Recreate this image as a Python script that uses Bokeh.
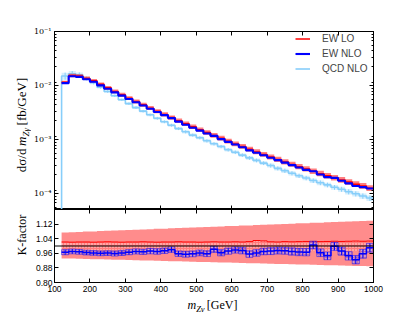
import math
from bokeh.plotting import figure
from bokeh.layouts import column, row
from bokeh.models import (LinearAxis, LogAxis, FixedTicker, LogTicker, CustomJSTickFormatter,
                          PrintfTickFormatter, Legend, LegendItem, Span, Range1d, Div)
from bokeh.embed import file_html
from bokeh.resources import INLINE

# ---------------- data ----------------
mass_edges = list(range(120, 1001, 20))

ew_lo = [0.0114, 0.0153, 0.0149, 0.0135, 0.01218, 0.01046, 0.00901, 0.00775, 0.00671, 0.00580,
         0.00503, 0.00437, 0.00379, 0.00332, 0.00289, 0.00253, 0.00222, 0.00195, 0.00171, 0.00151,
         0.00134, 0.00118, 0.00105, 0.000925, 0.000823, 0.000734, 0.000654, 0.000585, 0.000524, 0.000470,
         0.000423, 0.000380, 0.000343, 0.000310, 0.000281, 0.000255, 0.000231, 0.000211, 0.000193, 0.000176,
         0.000161, 0.000147, 0.000136, 0.000124]

k_ew = [0.966, 0.970, 0.968, 0.964, 0.962, 0.960, 0.961, 0.959, 0.962, 0.966,
        0.970, 0.968, 0.972, 0.970, 0.974, 0.980, 0.958, 0.955, 0.957, 0.962,
        0.958, 0.982, 0.963, 0.972, 0.978, 0.975, 0.956, 0.962, 0.970, 0.972,
        0.975, 0.974, 0.970, 0.967, 0.966, 1.005, 0.963, 0.946, 0.998, 0.972,
        0.946, 0.925, 0.957, 0.990]

k_err = [0.014, 0.013, 0.013, 0.013, 0.013, 0.013, 0.013, 0.014, 0.014, 0.014,
         0.014, 0.014, 0.015, 0.015, 0.015, 0.015, 0.015, 0.016, 0.016, 0.016,
         0.016, 0.017, 0.017, 0.017, 0.017, 0.018, 0.018, 0.018, 0.018, 0.019,
         0.019, 0.019, 0.020, 0.020, 0.020, 0.021, 0.021, 0.021, 0.022, 0.022,
         0.023, 0.023, 0.024, 0.024]

qcd_nlo = [0.0150, 0.0165, 0.0158, 0.0135, 0.01128, 0.00928, 0.00773, 0.00643, 0.00543, 0.00459,
           0.00388, 0.00333, 0.00285, 0.00246, 0.00212, 0.00183, 0.00158, 0.00138, 0.00120, 0.00107,
           0.000939, 0.000827, 0.000737, 0.000643, 0.000576, 0.000510, 0.000453, 0.000407, 0.000362, 0.000327,
           0.000290, 0.000262, 0.000235, 0.000211, 0.000192, 0.000172, 0.000157, 0.000143, 0.000129, 0.000119,
           0.000107, 0.0000980, 0.0000891, 0.0000816]

qcd_rel_err = [0.15, 0.12, 0.10, 0.08, 0.07, 0.06, 0.055, 0.05, 0.05, 0.05,
               0.055, 0.055, 0.055, 0.06, 0.06, 0.06, 0.06, 0.065, 0.065, 0.065,
               0.07, 0.07, 0.07, 0.075, 0.075, 0.075, 0.08, 0.08, 0.08, 0.085,
               0.085, 0.09, 0.09, 0.09, 0.095, 0.095, 0.10, 0.10, 0.10, 0.105,
               0.11, 0.11, 0.115, 0.12]

scale_hi = [1.074, 1.076, 1.077, 1.079, 1.080, 1.082, 1.083, 1.085, 1.086, 1.088,
            1.089, 1.091, 1.092, 1.094, 1.095, 1.097, 1.098, 1.100, 1.101, 1.103,
            1.104, 1.106, 1.107, 1.109, 1.110, 1.112, 1.113, 1.115, 1.116, 1.118,
            1.119, 1.121, 1.122, 1.124, 1.125, 1.127, 1.128, 1.130, 1.131, 1.133,
            1.134, 1.136, 1.137, 1.139]

scale_lo = [0.932, 0.931, 0.930, 0.929, 0.928, 0.927, 0.926, 0.925, 0.924, 0.923,
            0.922, 0.921, 0.920, 0.919, 0.918, 0.917, 0.916, 0.915, 0.914, 0.913,
            0.912, 0.911, 0.910, 0.909, 0.908, 0.907, 0.906, 0.905, 0.904, 0.903,
            0.902, 0.901, 0.900, 0.899, 0.898, 0.897, 0.896, 0.895, 0.894, 0.893,
            0.892, 0.891, 0.890, 0.889]

inner_hi = [1.022, 1.021, 1.022, 1.022, 1.021, 1.022, 1.023, 1.022, 1.021, 1.022,
            1.022, 1.023, 1.022, 1.021, 1.022, 1.022, 1.023, 1.022, 1.022, 1.021,
            1.022, 1.023, 1.022, 1.022, 1.023, 1.022, 1.024, 1.030, 1.028, 1.023,
            1.022, 1.024, 1.023, 1.024, 1.025, 1.025, 1.024, 1.025, 1.026, 1.025,
            1.026, 1.027, 1.026, 1.027]

inner_lo = [0.978, 0.978, 0.978, 0.978, 0.978, 0.978, 0.977, 0.977, 0.977, 0.977,
            0.977, 0.977, 0.976, 0.976, 0.976, 0.976, 0.976, 0.976, 0.975, 0.975,
            0.975, 0.975, 0.975, 0.975, 0.974, 0.974, 0.974, 0.974, 0.974, 0.974,
            0.973, 0.973, 0.973, 0.973, 0.973, 0.973, 0.972, 0.972, 0.972, 0.972,
            0.972, 0.972, 0.971, 0.971]

x_ticks = [100, 200, 300, 400, 500, 600, 700, 800, 900, 1000]
k_ticks = [0.80, 0.88, 0.96, 1.04, 1.12]
legend_labels = ["EW LO", "EW NLO", "QCD NLO"]
y_title_html = "d\u03c3/d&thinsp;<i>m</i><sub style='font-size:9px'><i>Z\u03b3</i></sub>&thinsp;[fb/GeV]"
x_title_html = "<i>m</i><sub style='font-size:8.5px'><i>Z\u03b3</i></sub>&thinsp;[GeV]"
k_title = "K-factor"

RED = "#ff0000"
BLUE = "#0000ff"
LBLUE = "#87cefa"

X0, X1 = 100, 1000
Y0, Y1 = 5e-5, 0.1
K0, K1 = 0.8, 1.2
LW = 30                   # width of the left label column
W = 415 - LW
BL, BR = 22, 42
H1 = 209
H2 = 87
H3 = 312 - H1 - H2

# ---------------- derived ----------------
lefts = mass_edges[:-1]
rights = mass_edges[1:]
centers = [(a + b) / 2 for a, b in zip(lefts, rights)]
ew_nlo = [lo * k for lo, k in zip(ew_lo, k_ew)]


def steps(vals):
    xs, ys = [], []
    for a, b, v in zip(lefts, rights, vals):
        xs += [a, b]
        ys += [v, v]
    return xs, ys


def style_axis(ax, labels=True, font="Liberation Sans", size="8.5px", standoff=3, minor=True, tiny=False):
    ax.axis_line_color = "black"
    ax.axis_line_width = 1
    ax.major_tick_in = 4
    ax.major_tick_out = 0
    ax.minor_tick_in = 2
    ax.minor_tick_out = 0
    ax.major_tick_line_color = "black"
    ax.minor_tick_line_color = "black" if minor else None
    if labels:
        ax.major_label_text_font = font
        ax.major_label_text_font_size = size
        ax.major_label_standoff = standoff
        ax.major_label_text_color = "black"
    else:
        ax.major_label_text_font_size = "1px" if tiny else "8px"
        ax.major_label_text_alpha = 0
        ax.major_label_standoff = 0


def label_div(html, w, h, cx, cy, size, rotate):
    rot = " rotate(-90deg)" if rotate else ""
    inner = ("<div style=\"position:relative;width:%dpx;height:%dpx;overflow:visible;\">"
             "<span style=\"position:absolute;left:%.1fpx;top:%.1fpx;transform:translate(-50%%,-50%%)%s;"
             "white-space:nowrap;font-family:'Liberation Serif';font-size:%s;line-height:1;color:black;\">%s</span></div>"
             % (w, h, cx, cy, rot, size, html))
    return Div(text=inner, width=w, height=h, margin=0)


sup_js = """
const e = Math.round(Math.log10(tick));
const sup = {'-':'\u207b','0':'\u2070','1':'\u00b9','2':'\u00b2','3':'\u00b3','4':'\u2074','5':'\u2075','6':'\u2076','7':'\u2077','8':'\u2078','9':'\u2079'};
return '10' + String(e).split('').map(c => sup[c]).join('');
"""

# ---------------- top panel ----------------
p1 = figure(width=W, height=H1, x_range=Range1d(X0, X1), y_range=Range1d(Y0, Y1),
            y_axis_type="log", output_backend="svg", toolbar_location=None,
            min_border_left=BL, min_border_right=BR, min_border_top=31, min_border_bottom=0)
p1.grid.visible = False
p1.outline_line_color = "black"
p1.background_fill_color = "white"

# QCD NLO
q_lo = [q * (1 - e) for q, e in zip(qcd_nlo, qcd_rel_err)]
q_hi = [q * (1 + e) for q, e in zip(qcd_nlo, qcd_rel_err)]
sx, s_lo = steps(q_lo)
_, s_hi = steps(q_hi)
p1.varea(x=sx, y1=s_lo, y2=s_hi, fill_color=LBLUE, fill_alpha=0.35)
qx, qy = steps(qcd_nlo)
r_qcd = p1.line([lefts[0]] + qx, [1e-7] + qy, line_color=LBLUE, line_width=1.6)
p1.segment(x0=centers, y0=q_lo, x1=centers, y1=q_hi, line_color=LBLUE, line_width=1)

# EW LO
_, s_lo = steps([v * s for v, s in zip(ew_lo, scale_lo)])
_, s_hi = steps([v * s for v, s in zip(ew_lo, scale_hi)])
p1.varea(x=sx, y1=s_lo, y2=s_hi, fill_color=RED, fill_alpha=0.5)
lx, ly = steps(ew_lo)
r_lo = p1.line(lx, ly, line_color=RED, line_width=1.5)

# EW NLO
_, s_lo = steps([v * (1 - e / k) for v, e, k in zip(ew_nlo, k_err, k_ew)])
_, s_hi = steps([v * (1 + e / k) for v, e, k in zip(ew_nlo, k_err, k_ew)])
p1.varea(x=sx, y1=s_lo, y2=s_hi, fill_color=BLUE, fill_alpha=0.2)
nx, ny = steps(ew_nlo)
r_nlo = p1.line(nx, ny, line_color=BLUE, line_width=2.1)

# axes
style_axis(p1.xaxis[0], labels=False, minor=False, tiny=True)
p1.xaxis[0].ticker = FixedTicker(ticks=x_ticks)
style_axis(p1.yaxis[0], labels=True, font="DejaVu Serif", size="8px", standoff=3)
p1.yaxis[0].ticker = LogTicker(num_minor_ticks=9)
p1.yaxis[0].formatter = CustomJSTickFormatter(code=sup_js)
top_ax = LinearAxis(ticker=FixedTicker(ticks=x_ticks))
style_axis(top_ax, labels=False, minor=False)
p1.add_layout(top_ax, "above")
right_ax = LogAxis(ticker=LogTicker(num_minor_ticks=9))
style_axis(right_ax, labels=False)
p1.add_layout(right_ax, "right")

legend = Legend(items=[LegendItem(label=legend_labels[0], renderers=[r_lo]),
                       LegendItem(label=legend_labels[1], renderers=[r_nlo]),
                       LegendItem(label=legend_labels[2], renderers=[r_qcd])],
                location="top_right", margin=0, padding=5, spacing=0,
                label_height=15, glyph_height=15, glyph_width=15, label_standoff=12,
                label_width=51, label_text_font="Liberation Sans", label_text_font_size="10px",
                border_line_color=None, background_fill_alpha=0)
p1.add_layout(legend)

# ---------------- bottom panel ----------------
p2 = figure(width=W, height=H2, x_range=p1.x_range, y_range=Range1d(K0, K1),
            output_backend="svg", toolbar_location=None,
            min_border_left=BL, min_border_right=BR, min_border_top=0, min_border_bottom=14)
p2.grid.visible = False
p2.outline_line_color = "black"

_, b_lo = steps(scale_lo)
_, b_hi = steps(scale_hi)
p2.varea(x=sx, y1=b_lo, y2=b_hi, fill_color=RED, fill_alpha=0.45)
_, i_lo = steps(inner_lo)
_, i_hi = steps(inner_hi)
p2.varea(x=sx, y1=i_lo, y2=i_hi, fill_color=RED, fill_alpha=0.12,
         hatch_pattern="dot", hatch_color="white", hatch_alpha=0.8, hatch_scale=3, hatch_weight=1)
p2.line(sx, i_hi, line_color=RED, line_width=1)
p2.add_layout(Span(location=1.0, dimension="width", line_color="black", line_width=1))

p2.quad(left=lefts, right=rights,
        bottom=[k - e for k, e in zip(k_ew, k_err)], top=[k + e for k, e in zip(k_ew, k_err)],
        fill_color="#3333ff", fill_alpha=0.3, line_color=BLUE, line_width=0.6, line_alpha=0.8,
        hatch_pattern="dot", hatch_color="white", hatch_alpha=0.7, hatch_scale=3, hatch_weight=1)
kx, ky = steps(k_ew)
p2.line(kx, ky, line_color=BLUE, line_width=1.5)
p2.segment(x0=centers, y0=[k - e for k, e in zip(k_ew, k_err)],
           x1=centers, y1=[k + e for k, e in zip(k_ew, k_err)], line_color=BLUE, line_width=1)

style_axis(p2.xaxis[0], labels=True, font="Liberation Sans", size="8.5px", standoff=3, minor=False)
p2.xaxis[0].ticker = FixedTicker(ticks=x_ticks)
style_axis(p2.yaxis[0], labels=True, font="Liberation Sans", size="8.5px", standoff=2, minor=False)
p2.yaxis[0].ticker = FixedTicker(ticks=k_ticks)
p2.yaxis[0].formatter = PrintfTickFormatter(format="%.2f")
top2 = LinearAxis(ticker=FixedTicker(ticks=x_ticks))
style_axis(top2, labels=False, minor=False, tiny=True)
p2.add_layout(top2, "above")
right2 = LinearAxis(ticker=FixedTicker(ticks=k_ticks))
style_axis(right2, labels=False, minor=False)
p2.add_layout(right2, "right")

# ---------------- axis titles (HTML text, with real subscripts) ----------------
ytitle = label_div(y_title_html, LW, H1, 23, 125, "13px", True)
ktitle = label_div(k_title, LW, H2, 22, 26, "12px", True)
corner = Div(text="", width=LW, height=H3, margin=0)
xtitle = label_div(x_title_html, W, H3, 212.5 - LW, 9.5, "12px", False)

layout = row(column(ytitle, ktitle, corner, spacing=0),
             column(p1, p2, xtitle, spacing=0), spacing=0)
open("out.html", "w").write(file_html(layout, INLINE))
